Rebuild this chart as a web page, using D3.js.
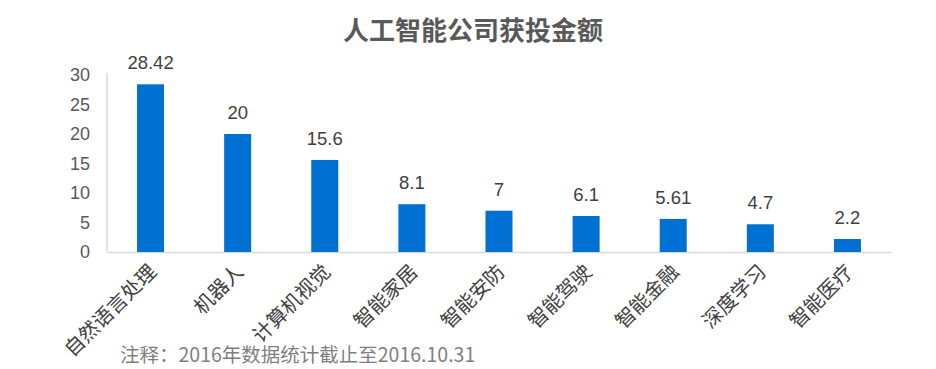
<!DOCTYPE html>
<html>
<head>
<meta charset="utf-8">
<script src="https://cdn.jsdelivr.net/npm/d3@7"></script>
<style>
    body { margin: 0; background: #fff; }
    svg { display: block; }
</style>
</head>
<body>
<div id="chart"></div>
<script>
// chart data
const categories = ["自然语言处理", "机器人", "计算机视觉", "智能家居", "智能安防", "智能驾驶", "智能金融", "深度学习", "智能医疗"];
const amounts = [28.42, 20, 15.6, 8.1, 7, 6.1, 5.61, 4.7, 2.2];
const amountLabels = ["28.42", "20", "15.6", "8.1", "7", "6.1", "5.61", "4.7", "2.2"];
const yTicks = [0, 5, 10, 15, 20, 25, 30];
const title = "人工智能公司获投金额";
const note = "注释：2016年数据统计截止至2016.10.31";

const cjk = "'Noto Sans CJK SC', 'Noto Sans', sans-serif";
const num = "'Liberation Sans', Arial, sans-serif";

let width = 936, height = 369;
let margin = { top: 75, right: 45, bottom: 117, left: 107 };

let svg = d3.select("#chart")
    .append("svg")
    .attr("width", width)
    .attr("height", height);

let xScale = d3.scaleBand()
    .domain(categories)
    .range([margin.left, width - margin.right])
    .paddingInner(0.69)
    .paddingOuter(0.345);

let yScale = d3.scaleLinear()
    .domain([0, 30])
    .range([height - margin.bottom, margin.top]);

// title
svg.append("text")
    .attr("x", 473)
    .attr("y", 40)
    .attr("text-anchor", "middle")
    .attr("font-family", cjk)
    .attr("font-weight", "bold")
    .attr("font-size", "26px")
    .attr("fill", "#595959")
    .text(title);

// y axis
let yAxis = svg.append("g")
    .attr("transform", "translate(" + margin.left + ",0)")
    .call(d3.axisLeft(yScale).tickValues(yTicks).tickSize(0).tickPadding(17));
yAxis.select(".domain")
    .attr("stroke", "#d9d9d9")
    .attr("stroke-width", 1.5)
    .attr("d", "M0," + (margin.top - 2) + "V" + yScale(0));
yAxis.selectAll("text")
    .attr("font-family", num)
    .attr("font-size", "18px")
    .attr("fill", "#595959");

// x axis
let xAxis = svg.append("g")
    .attr("transform", "translate(0," + yScale(0) + ")")
    .call(d3.axisBottom(xScale).tickSize(0).tickPadding(0));
xAxis.select(".domain")
    .attr("stroke", "#d9d9d9")
    .attr("stroke-width", 1.5);
xAxis.selectAll("text")
    .attr("font-family", cjk)
    .attr("font-size", "20px")
    .attr("fill", "#404040")
    .attr("text-anchor", "end")
    .attr("dy", null)
    .attr("transform", "translate(7,21) rotate(-45)");

// bars
svg.selectAll(".bar")
    .data(amounts)
    .enter()
    .append("rect")
    .attr("class", "bar")
    .attr("x", function (d, i) { return xScale(categories[i]); })
    .attr("y", function (d) { return yScale(d); })
    .attr("width", xScale.bandwidth())
    .attr("height", function (d) { return yScale(0) - yScale(d); })
    .attr("fill", "#0070d2");

// value labels
svg.selectAll(".value")
    .data(amounts)
    .enter()
    .append("text")
    .attr("class", "value")
    .attr("x", function (d, i) { return xScale(categories[i]) + xScale.bandwidth() / 2; })
    .attr("y", function (d) { return yScale(d) - 15; })
    .attr("text-anchor", "middle")
    .attr("font-family", num)
    .attr("font-size", "18.5px")
    .attr("fill", "#404040")
    .text(function (d, i) { return amountLabels[i]; });

// note
svg.append("text")
    .attr("x", 120)
    .attr("y", 362)
    .attr("font-family", cjk)
    .attr("font-size", "19.5px")
    .attr("fill", "#7f7f7f")
    .text(note);
</script>
</body>
</html>
